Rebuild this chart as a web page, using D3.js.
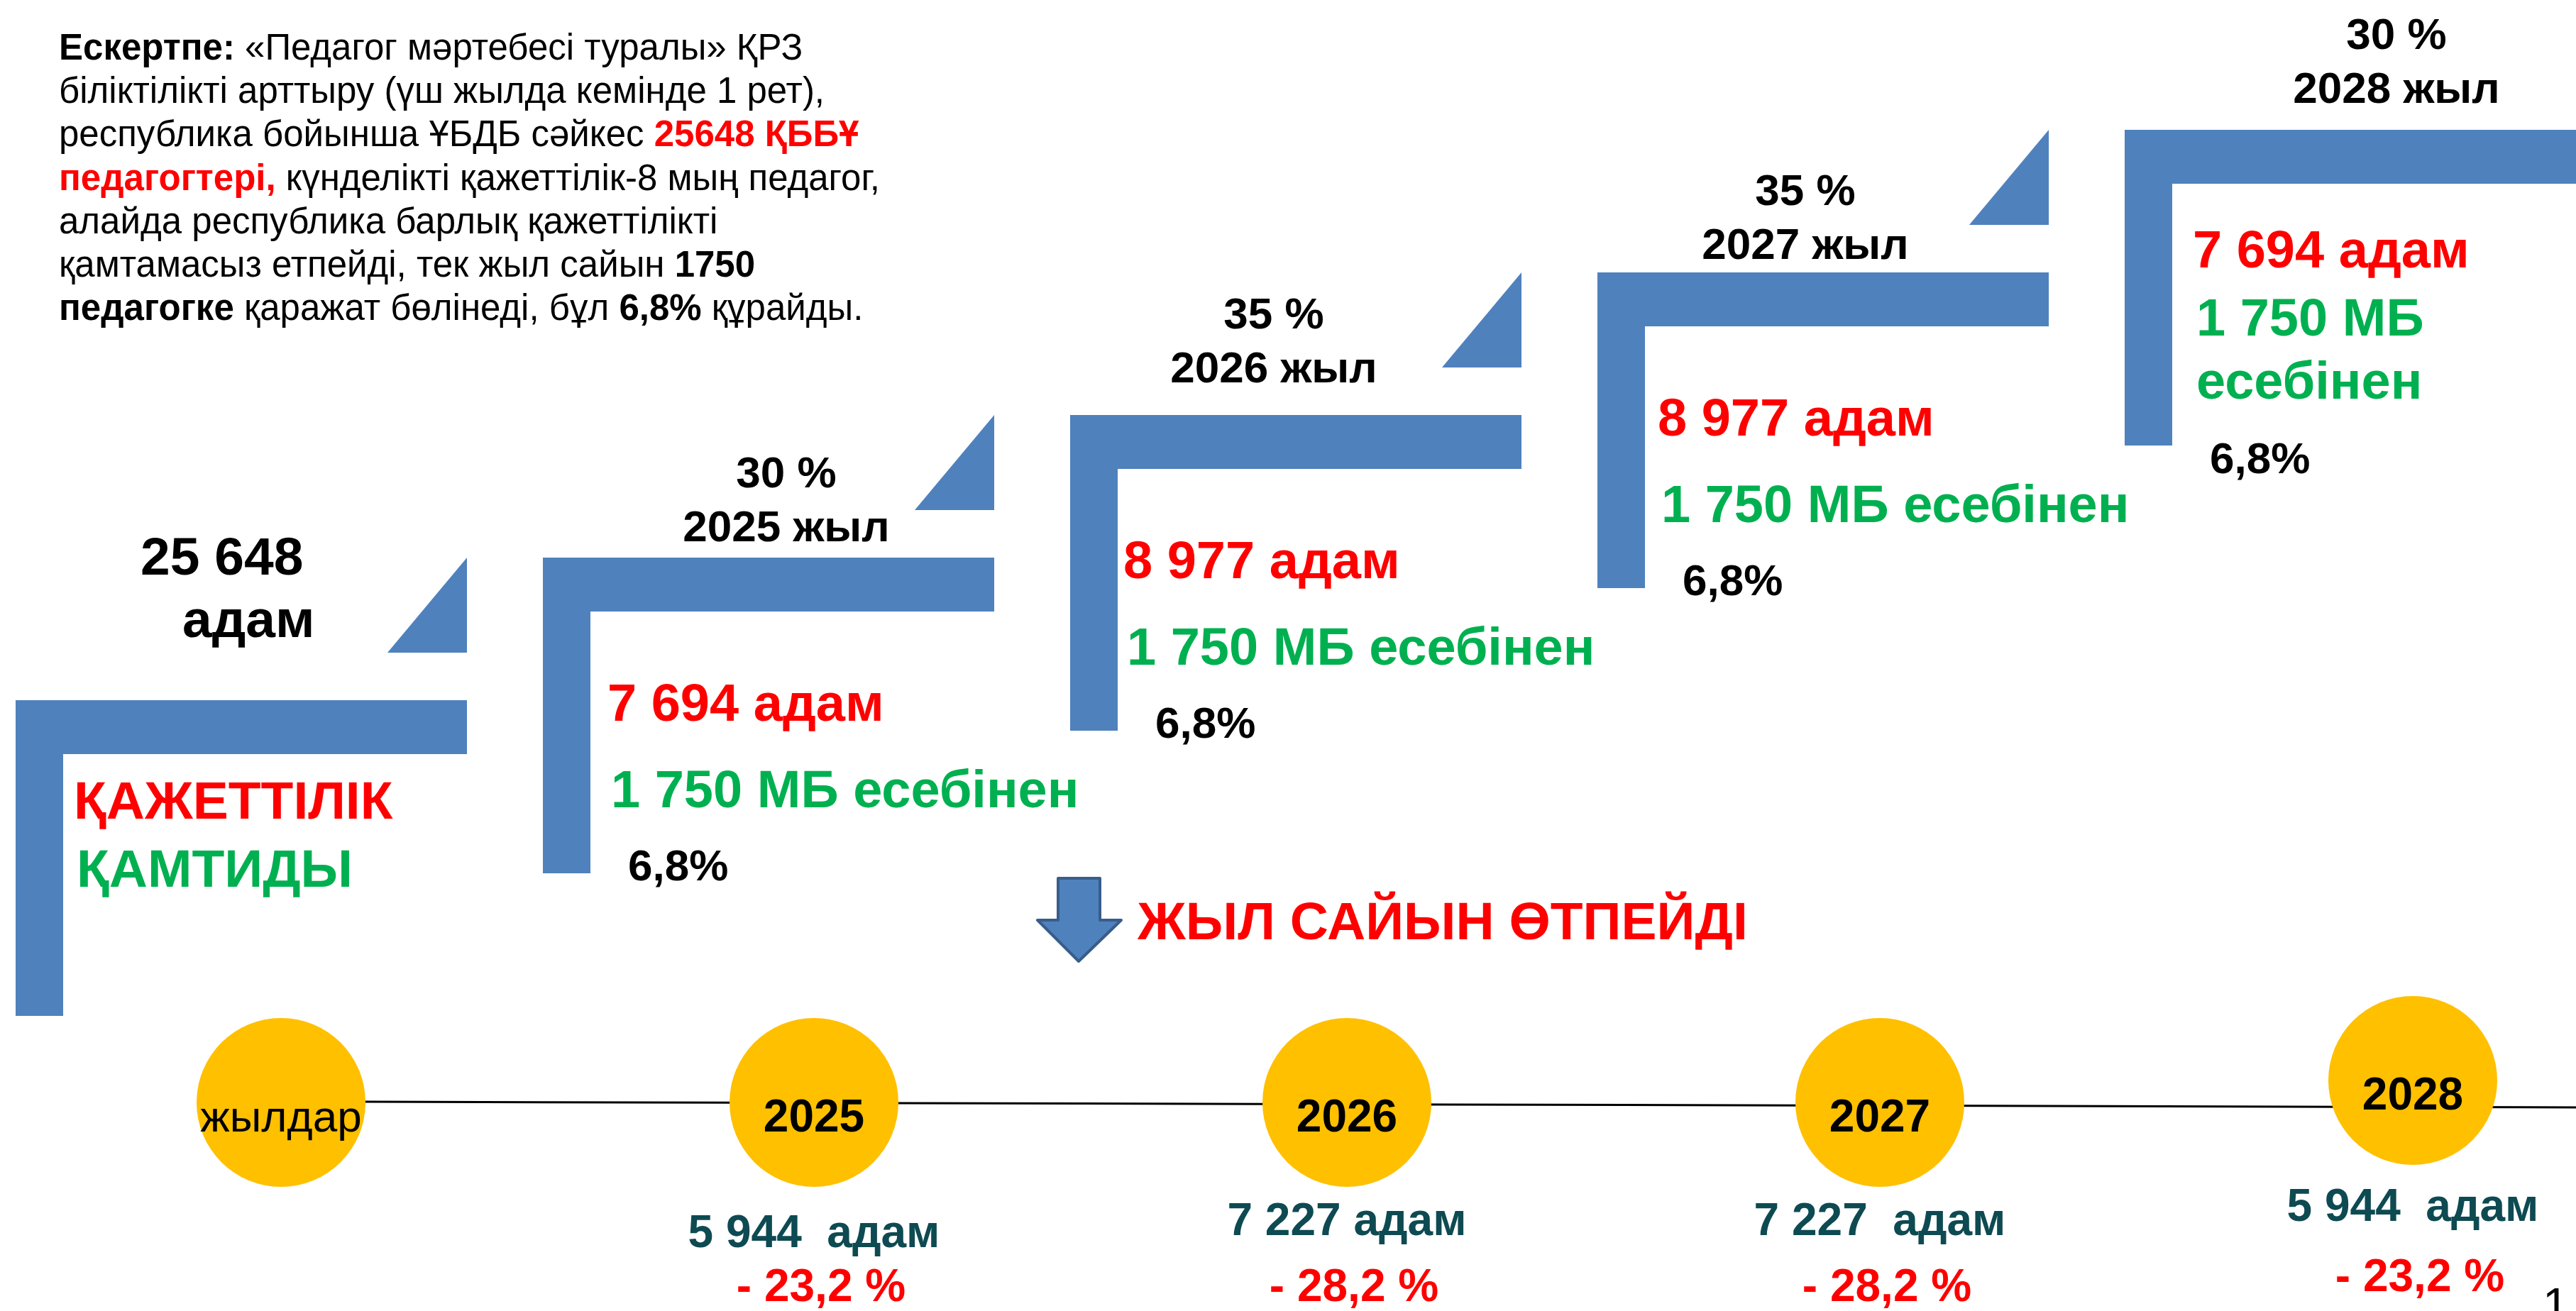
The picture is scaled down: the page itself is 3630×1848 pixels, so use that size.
<!DOCTYPE html>
<html>
<head>
<meta charset="utf-8">
<script src="https://cdn.jsdelivr.net/npm/d3@7"></script>
<style>
  body { margin: 0; background: #fff; }
  svg { display: block; font-family: "Liberation Sans", Arial, sans-serif; }
</style>
</head>
<body>
<div id="chart"></div>
<script>
// ---- data ----
var total = "25 648";
var years = ["2025", "2026", "2027", "2028"];
var sharePct = ["30 %", "35 %", "35 %", "30 %"];
var needPeople = ["7 694 адам", "8 977 адам", "8 977 адам", "7 694 адам"];
var fundedLines = [["1 750 МБ есебінен"], ["1 750 МБ есебінен"], ["1 750 МБ есебінен"], ["1 750 МБ", "есебінен"]];
var fundedShare = ["6,8%", "6,8%", "6,8%", "6,8%"];
var timeline = ["жылдар", "2025", "2026", "2027", "2028"];
var notPassed = ["5 944  адам", "7 227 адам", "7 227  адам", "5 944  адам"];
var deficit = ["- 23,2 %", "- 28,2 %", "- 28,2 %", "- 23,2 %"];

// note lines: [text, bold, red]
var noteLines = [
  [["Ескертпе:", 1, 0], [" «Педагог мәртебесі туралы» ҚРЗ", 0, 0]],
  [["біліктілікті арттыру (үш жылда кемінде 1 рет),", 0, 0]],
  [["республика бойынша ҰБДБ сәйкес ", 0, 0], ["25648 ҚББҰ", 1, 1]],
  [["педагогтері,", 1, 1], [" күнделікті қажеттілік-8 мың педагог,", 0, 0]],
  [["алайда республика барлық қажеттілікті", 0, 0]],
  [["қамтамасыз етпейді, тек жыл сайын ", 0, 0], ["1750", 1, 0]],
  [["педагогке", 1, 0], [" қаражат бөлінеді, бұл ", 0, 0], ["6,8%", 1, 0], [" құрайды.", 0, 0]]
];

// ---- layout ----
var W = 3630, H = 1848;
var blue = "#4F81BD", red = "#FF0000", green = "#00B050", gold = "#FFC000", teal = "#0E4A52";
var stepW = 636, barH = 76, barW = 67, stepH = 445, triW = 112;
// small per-step text nudges (header centre, inner text)
var headDx = [0, 17, -39, -33, 57];
var headDy = [0, 8, -15, 12, -7];
var innerDx = [0, 4, -12, -2, 9];

var svg = d3.select("#chart").append("svg")
  .attr("width", W).attr("height", H);

var sx = d3.scaleLinear().domain([0, 4]).range([22, 2994]);
var sy = d3.scaleLinear().domain([0, 4]).range([987, 183]);

// ---- note ----
var note = svg.append("text").attr("font-size", 51).attr("fill", "#000");
noteLines.forEach(function (line, i) {
  line.forEach(function (part, j) {
    var t = note.append("tspan").text(part[0])
      .attr("font-weight", part[1] ? "bold" : "normal")
      .attr("fill", part[2] ? red : "#000");
    if (j === 0) t.attr("x", 83).attr("y", 84 + i * 61.2);
  });
});

// ---- steps ----
var steps = d3.range(5);
var g = svg.append("g");

steps.forEach(function (i) {
  var x = sx(i), y = sy(i);
  var right = i === 4 ? W + 10 : x + stepW;
  var pts = [[x, y], [right, y], [right, y + barH], [x + barW, y + barH], [x + barW, y + stepH], [x, y + stepH]];
  g.append("path").attr("d", d3.line()(pts) + "Z").attr("fill", blue);
  if (i < 4) {
    var top = sy(i + 1);
    var tri = [[right - triW, y - 67], [right, y - 67], [right, top]];
    g.append("path").attr("d", d3.line()(tri) + "Z").attr("fill", blue);
  }
});

// base step texts
var x0 = sx(0), y0 = sy(0);
svg.append("text").attr("x", x0 + 176).attr("y", y0 - 177)
  .attr("font-size", 75).attr("font-weight", "bold").text(total);
svg.append("text").attr("x", x0 + 235).attr("y", y0 - 89)
  .attr("font-size", 75).attr("font-weight", "bold").text("адам");
svg.append("text").attr("x", x0 + 82).attr("y", y0 + 167)
  .attr("font-size", 75).attr("font-weight", "bold").attr("fill", red).text("ҚАЖЕТТІЛІК");
svg.append("text").attr("x", x0 + 86).attr("y", y0 + 263)
  .attr("font-size", 75).attr("font-weight", "bold").attr("fill", green).text("ҚАМТИДЫ");

// year steps
years.forEach(function (yr, k) {
  var i = k + 1, x = sx(i), y = sy(i);
  var cx = x + 326 + headDx[i];
  svg.append("text").attr("x", cx).attr("y", y - 107 + headDy[i])
    .attr("text-anchor", "middle").attr("font-size", 62).attr("font-weight", "bold")
    .text(sharePct[k]);
  svg.append("text").attr("x", cx).attr("y", y - 31 + headDy[i])
    .attr("text-anchor", "middle").attr("font-size", 62).attr("font-weight", "bold")
    .text(yr + " жыл");

  var tx = x + 87 + innerDx[i];
  var redY = i === 4 ? y + 194 : y + 230;
  svg.append("text").attr("x", tx).attr("y", redY)
    .attr("font-size", 74).attr("font-weight", "bold").attr("fill", red).text(needPeople[k]);
  var gy = i === 4 ? redY + 96 : redY + 122;
  fundedLines[k].forEach(function (ln, j) {
    svg.append("text").attr("x", tx + 5).attr("y", gy + j * 89)
      .attr("font-size", 74).attr("font-weight", "bold").attr("fill", green).text(ln);
  });
  var py = i === 4 ? y + 484 : y + 455;
  svg.append("text").attr("x", x + 120).attr("y", py)
    .attr("font-size", 62).attr("font-weight", "bold").text(fundedShare[k]);
});

// ---- arrow + heading ----
var arrow = [[1491, 1238], [1550, 1238], [1550, 1297], [1580, 1297], [1520, 1355], [1462, 1297], [1491, 1297]];
svg.append("path").attr("d", d3.line()(arrow) + "Z")
  .attr("fill", blue).attr("stroke", "#385D8A").attr("stroke-width", 4).attr("stroke-linejoin", "round");
svg.append("text").attr("x", 1603).attr("y", 1324)
  .attr("font-size", 75).attr("font-weight", "bold").attr("fill", red).text("ЖЫЛ САЙЫН ӨТПЕЙДІ");

// ---- timeline ----
var tx = d3.scalePoint().domain(timeline).range([396, 3400]);
var cy = function (d, i) { return i === 4 ? 1523 : 1554; };

svg.append("line").attr("x1", 514).attr("y1", 1553).attr("x2", W).attr("y2", 1561)
  .attr("stroke", "#000").attr("stroke-width", 3);

var nodes = svg.selectAll(".node").data(timeline).enter().append("g").attr("class", "node");
nodes.append("circle")
  .attr("cx", function (d) { return tx(d); })
  .attr("cy", cy)
  .attr("r", 119)
  .attr("fill", gold);
nodes.append("text")
  .attr("x", function (d) { return tx(d); })
  .attr("y", function (d, i) { return cy(d, i) + 41; })
  .attr("text-anchor", "middle")
  .attr("font-size", function (d, i) { return i === 0 ? 62 : 64; })
  .attr("font-weight", function (d, i) { return i === 0 ? "normal" : "bold"; })
  .text(function (d) { return d; });

years.forEach(function (yr, k) {
  var x = tx(yr), dy = k === 3 ? -20 : 0;
  svg.append("text").attr("x", x).attr("y", (k === 0 ? 1758 : 1741) + dy)
    .attr("text-anchor", "middle").attr("font-size", 64).attr("font-weight", "bold")
    .attr("fill", teal).style("white-space", "pre").text(notPassed[k]);
  svg.append("text").attr("x", x + 10).attr("y", 1834 + (k === 3 ? -14 : 0))
    .attr("text-anchor", "middle").attr("font-size", 64).attr("font-weight", "bold")
    .attr("fill", red).text(deficit[k]);
});

// page number
svg.append("text").attr("x", 3583).attr("y", 1862).attr("font-size", 66).text("1");
</script>
</body>
</html>
